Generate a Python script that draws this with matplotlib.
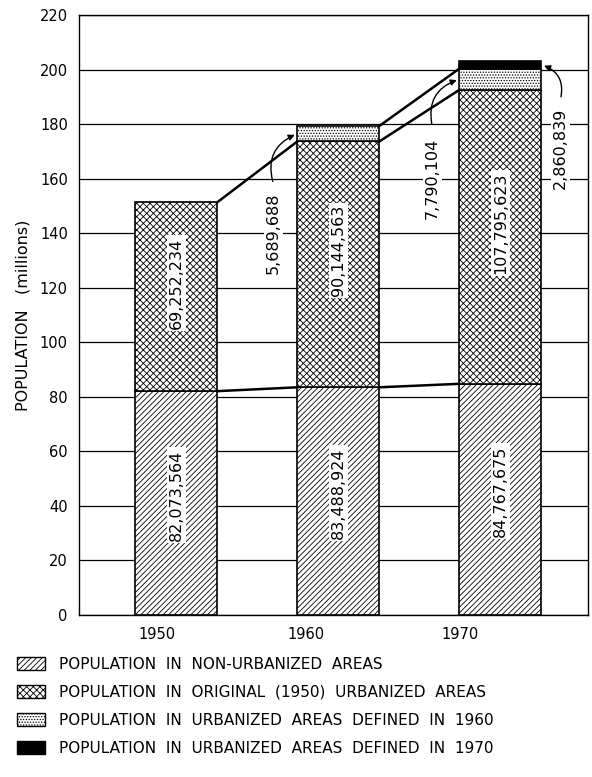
import numpy as np
import matplotlib
matplotlib.use("Agg")
import matplotlib.pyplot as plt
from matplotlib.patches import Patch

# population counts by census year
years = ["1950", "1960", "1970"]
non_urban = [82073564, 83488924, 84767675]
orig_urban = [69252234, 90144563, 107795623]
urban_1960 = [0, 5689688, 7790104]
urban_1970 = [0, 0, 2860839]

legend_labels = [
    "POPULATION  IN  NON-URBANIZED  AREAS",
    "POPULATION  IN  ORIGINAL  (1950)  URBANIZED  AREAS",
    "POPULATION  IN  URBANIZED  AREAS  DEFINED  IN  1960",
    "POPULATION  IN  URBANIZED  AREAS  DEFINED  IN  1970",
]

plt.rcParams["font.family"] = ["DejaVu Sans"]
plt.rcParams["hatch.linewidth"] = 0.6

BAR_W = 0.506
x = np.arange(len(years))
m = 1e6
nu = np.array(non_urban) / m
ou = np.array(orig_urban) / m
u60 = np.array(urban_1960) / m
u70 = np.array(urban_1970) / m
b_ou = nu
b_60 = nu + ou
b_70 = nu + ou + u60

fig = plt.figure(figsize=(5.92, 7.77), dpi=100)
ax = fig.add_axes([0.1334, 0.2085, 0.8598, 0.7722])

ax.set_ylim(0, 220)
ax.set_xlim(-0.6, 2.54)
ax.set_yticks(np.arange(0, 221, 20))
ax.yaxis.grid(True, color="black", linewidth=0.9)
ax.set_axisbelow(True)
ax.tick_params(length=0, labelsize=10.5)
ax.tick_params(axis="y", pad=8)
ax.tick_params(axis="x", pad=9)
ax.set_xticks([-0.12, 0.80, 1.75])
ax.set_xticklabels(years)
for s in ax.spines.values():
    s.set_linewidth(1.0)
ax.set_ylabel("POPULATION   (millions)", fontsize=11.5, labelpad=7)

kw = dict(width=BAR_W, facecolor="white", edgecolor="black", linewidth=1.2, zorder=2)
ax.bar(x, nu, hatch="//////", **kw)
ax.bar(x, ou, bottom=b_ou, hatch="xxxxx", **kw)
i60 = u60 > 0
ax.bar(x[i60], u60[i60], bottom=b_60[i60], hatch="......", **kw)
i70 = u70 > 0
ax.bar(x[i70], u70[i70], bottom=b_70[i70], color="black", edgecolor="black",
       width=BAR_W, linewidth=1.2, zorder=2)

# connecting lines between bars
half = BAR_W / 2
line_kw = dict(color="black", linewidth=1.8, zorder=3)
for i in range(2):
    ax.plot([x[i] + half, x[i + 1] - half], [nu[i], nu[i + 1]], **line_kw)
    ax.plot([x[i] + half, x[i + 1] - half], [b_60[i], b_60[i + 1]], **line_kw)
ax.plot([x[1] + half, x[2] - half], [b_70[1], b_70[2]], **line_kw)

# values inside bars
box = dict(facecolor="white", edgecolor="none", pad=1.5)
fs = 11.5
for i in range(3):
    ax.text(x[i], nu[i] / 2 + 3, f"{non_urban[i]:,}", rotation=90, ha="center",
            va="center", fontsize=fs, bbox=box, zorder=4)
    ax.text(x[i], b_ou[i] + ou[i] / 2 + 5, f"{orig_urban[i]:,}", rotation=90,
            ha="center", va="center", fontsize=fs, bbox=box, zorder=4)

# small segments annotated outside bars
ann_kw = dict(arrowstyle="-|>", color="black", linewidth=1.0, mutation_scale=9)
ax.text(0.60, 140, f"{urban_1960[1]:,}", rotation=90, ha="center",
        va="center", fontsize=fs, bbox=box, zorder=4)
ax.annotate("", xy=(x[1] - half, b_60[1] + u60[1] / 2), xytext=(0.60, 158),
            arrowprops=dict(connectionstyle="arc3,rad=-0.45", **ann_kw), zorder=4)

ax.text(1.58, 160, f"{urban_1960[2]:,}", rotation=90, ha="center",
        va="center", fontsize=fs, bbox=box, zorder=4)
ax.annotate("", xy=(x[2] - half, b_60[2] + u60[2] / 2), xytext=(1.58, 179),
            arrowprops=dict(connectionstyle="arc3,rad=-0.45", **ann_kw), zorder=4)

ax.text(2.37, 171, f"{urban_1970[2]:,}", rotation=90, ha="center",
        va="center", fontsize=fs, bbox=box, zorder=4)
ax.annotate("", xy=(x[2] + half, b_70[2] + u70[2] / 2), xytext=(2.37, 189),
            arrowprops=dict(connectionstyle="arc3,rad=0.45", **ann_kw), zorder=4)

handles = [
    Patch(facecolor="white", edgecolor="black", hatch="//////"),
    Patch(facecolor="white", edgecolor="black", hatch="xxxxx"),
    Patch(facecolor="white", edgecolor="black", hatch="......"),
    Patch(facecolor="black", edgecolor="black"),
]
fig.legend(handles, legend_labels, loc="upper left", bbox_to_anchor=(0.028, 0.155),
           frameon=False, fontsize=11, handlelength=1.85, handleheight=0.95,
           handletextpad=0.95, labelspacing=0.85, borderpad=0, borderaxespad=0)

fig.savefig("out.png", dpi=100)
